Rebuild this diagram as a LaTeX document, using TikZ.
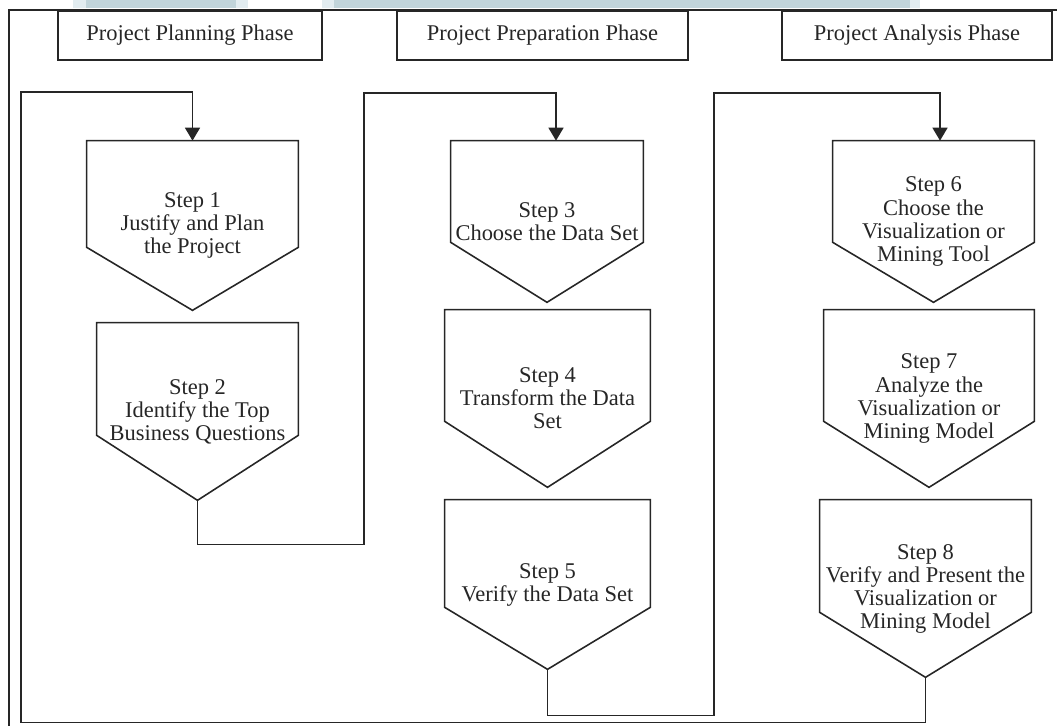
\documentclass[tikz,border=0pt]{standalone}
\usepackage{fontspec}
\setmainfont{Liberation Serif}
\usetikzlibrary{ % tikz packages
    arrows.meta,calc
}
\definecolor{bandblue}{RGB}{193,212,218}
\definecolor{bandlight}{RGB}{226,236,240}
\tikzset{>={Triangle[length=0.26cm,width=0.3cm]}}
\tikzset{phasebox/.style={
    draw=black!85,
    line width=0.9pt,
    minimum height=0.98cm,
    inner sep=0pt,
    text=black!85,
    font=\fontsize{12.8pt}{13.1pt}\selectfont
}}
\tikzset{stepbox/.style={
    align=center,
    inner sep=0pt,
    text=black!85,
    font=\fontsize{12.8pt}{13.1pt}\selectfont
}}
\tikzset{outline/.style={draw=black!85, line width=0.9pt}}
\tikzset{flow/.style={draw=black!85, line width=0.9pt}}

\begin{document}
\begin{tikzpicture}[x=0.02cm,y=-0.02cm]
            \useasboundingbox (0,0) rectangle (1057,726);
            % faint band along the top edge
            \fill[bandlight] (73,0) rectangle (920,8.5);
            \fill[bandblue] (86,0) rectangle (236,8.5);
            \fill[bandblue] (334,0) rectangle (910,8.5);
            \fill[white] (248,0) rectangle (322,8.5);
            \draw[flow] (9,726) -- (9,10) -- (1057,10);

            \node[phasebox, minimum width=5.28cm] (plan) at (190,35.5) {Project Planning Phase};
            \node[phasebox, minimum width=5.82cm] (prep) at (542.5,35.5) {Project Preparation Phase};
            \node[phasebox, minimum width=5.4cm] (anal) at (917,35.5) {Project Analysis Phase};

            \node[stepbox, minimum width=4.22cm, minimum height=3.38cm] (s1) at (192.5,225.5)
                {Step 1\\Justify and Plan\\the Project};
            \node[stepbox, minimum width=4.02cm, minimum height=3.54cm] (s2) at (197.5,411.5)
                {Step 2\\Identify the Top\\Business Questions};
            \node[stepbox, minimum width=3.84cm, minimum height=3.22cm] (s3) at (547,221.5)
                {Step 3\\Choose the Data Set};
            \node[stepbox, minimum width=4.1cm, minimum height=3.54cm] (s4) at (547.5,398.5)
                {Step 4\\Transform the Data\\Set};
            \node[stepbox, minimum width=4.1cm, minimum height=3.38cm] (s5) at (547.5,584.5)
                {Step 5\\Verify the Data Set};
            \node[stepbox, minimum width=4.02cm, minimum height=3.22cm] (s6) at (933.5,221.5)
                {Step 6\\Choose the\\Visualization or\\Mining Tool};
            \node[stepbox, minimum width=4.2cm, minimum height=3.54cm] (s7) at (929,398.5)
                {Step 7\\Analyze the\\Visualization or\\Mining Model};
            \node[stepbox, minimum width=4.22cm, minimum height=3.54cm] (s8) at (925.5,588.5)
                {Step 8\\Verify and Present the\\Visualization or\\Mining Model};

            % pentagon outlines, point at the bottom
            \foreach \s/\d in {s1/63,s2/65,s3/60,s4/66,s5/62,s6/60,s7/66,s8/65}
                \draw[outline] (\s.north west) -- (\s.north east)
                    -- ($(\s.south east)+(0,-\d)$) -- (\s.south)
                    -- ($(\s.south west)+(0,-\d)$) -- cycle;

            \draw[flow,->] (s2.south) -- ++(0,44) -| (364,93) -| ([xshift=0.18cm]s3.north);
            \draw[flow,->] (s5.south) -- ++(0,46) -| (714,93) -| ([xshift=0.13cm]s6.north);
            \draw[flow,->] (s8.south) -- ++(0,45) -| (21,92) -| (s1.north);
        \end{tikzpicture}
\end{document}
